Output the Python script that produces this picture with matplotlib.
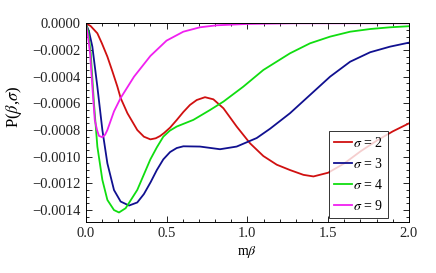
import matplotlib
matplotlib.use("Agg")
from matplotlib import pyplot as plt
from matplotlib.ticker import MultipleLocator, FuncFormatter

plt.rcParams['font.family'] = ['Liberation Serif', 'DejaVu Serif']
plt.rcParams['mathtext.fontset'] = 'stix'

# values
x2 = [0, 0.03, 0.072, 0.1, 0.134, 0.165, 0.196, 0.216, 0.258, 0.319, 0.36, 0.4, 0.433, 0.46, 0.485, 0.522,
      0.563, 0.604, 0.645, 0.687, 0.738, 0.79, 0.852, 0.934, 1.017, 1.099, 1.182, 1.264, 1.347, 1.409,
      1.5, 1.6, 1.7, 1.8, 1.9, 2.0]
y2 = [0, -0.00002, -0.000075, -0.00015, -0.00025, -0.00036, -0.000475, -0.00056, -0.000674, -0.0008,
      -0.00085, -0.00087, -0.000862, -0.000845, -0.000822, -0.000782, -0.000725, -0.000665, -0.000612,
      -0.000575, -0.000554, -0.00057, -0.000637, -0.000774, -0.0009, -0.000995, -0.00106, -0.0011,
      -0.001136, -0.001148, -0.00112, -0.00105, -0.00096, -0.00088, -0.00081, -0.00075]

x3 = [0, 0.02, 0.041, 0.072, 0.103, 0.134, 0.175, 0.216, 0.268, 0.319, 0.36, 0.402, 0.44, 0.48, 0.522,
      0.563, 0.604, 0.707, 0.831, 0.934, 1.058, 1.141, 1.264, 1.388, 1.512, 1.636, 1.76, 1.883, 2.0]
y3 = [0, -0.00006, -0.000175, -0.000475, -0.0008, -0.00105, -0.00125, -0.001336, -0.001366, -0.001343,
      -0.00128, -0.00119, -0.0011, -0.00102, -0.000965, -0.000935, -0.000922, -0.000924, -0.000944,
      -0.000924, -0.00086, -0.00079, -0.000674, -0.000537, -0.0004, -0.000288, -0.000217, -0.000175,
      -0.000145]

x4 = [0, 0.015, 0.031, 0.051, 0.072, 0.103, 0.134, 0.175, 0.206, 0.247, 0.319, 0.4, 0.44, 0.48, 0.52,
      0.563, 0.666, 0.769, 0.852, 0.975, 1.099, 1.264, 1.388, 1.512, 1.636, 1.76, 1.883, 2.0]
y4 = [0, -0.00006, -0.000225, -0.0006, -0.000924, -0.001174, -0.001324, -0.0014, -0.001418, -0.001386,
      -0.001249, -0.00102, -0.00093, -0.00085, -0.000805, -0.000774, -0.000724, -0.00065, -0.000587,
      -0.000475, -0.00035, -0.000225, -0.00015, -0.0001, -0.000063, -0.000043, -0.00003, -0.000022]

x9 = [0, 0.012, 0.027, 0.041, 0.056, 0.07, 0.082, 0.103, 0.12, 0.134, 0.175, 0.216, 0.299, 0.4, 0.5,
      0.604, 0.707, 0.811, 1.0, 1.3, 2.0]
y9 = [0, -0.00008, -0.000225, -0.000475, -0.000724, -0.0008, -0.000844, -0.000854, -0.000835, -0.0008,
      -0.00066, -0.00056, -0.0004, -0.000245, -0.00013, -0.000063, -0.00003, -0.000015, -0.000005, 0, 0]

labels = ['$\\sigma$ = 2', '$\\sigma$ = 3', '$\\sigma$ = 4', '$\\sigma$ = 9']
colors = ['#d01010', '#101090', '#10dd10', '#f020f0']

fig = plt.figure(figsize=(4.36, 2.73), dpi=100)
ax = fig.add_axes([0.1966, 0.188, 0.7414, 0.7267])

for xs, ys, lab, c in zip([x2, x3, x4, x9], [y2, y3, y4, y9], labels, colors):
    ax.plot(xs, ys, color=c, lw=1.3, label=lab)

ax.set_xlim(0, 2.0)
ax.set_ylim(-0.001487, 0.0)
ax.xaxis.set_major_locator(MultipleLocator(0.5))
ax.xaxis.set_minor_locator(MultipleLocator(0.1))
ax.yaxis.set_major_locator(MultipleLocator(0.0002))
ax.yaxis.set_minor_locator(MultipleLocator(0.00005))
ax.xaxis.set_major_formatter(FuncFormatter(lambda v, p: '%.1f' % v))
ax.yaxis.set_major_formatter(FuncFormatter(lambda v, p: ('%.4f' % v).replace('-', '\u2212') if abs(v) > 1e-9 else '0.0000'))

ax.tick_params(which='both', direction='in', top=True, right=True, labelsize=10.5, labelcolor='#222222', width=0.6)
ax.tick_params(which='major', length=4)
ax.tick_params(which='minor', length=2)
for s in ax.spines.values():
    s.set_linewidth(0.7)

ax.set_xlabel('m$\\beta$', fontsize=10, labelpad=3)
ax.set_ylabel('P($\\beta$,$\\sigma$)', fontsize=12)
ax.yaxis.set_label_coords(-0.19, 0.58)

leg = ax.legend(loc='lower right', bbox_to_anchor=(0.936, 0.019), fontsize=10, frameon=True, fancybox=False,
                handlelength=1.3, handletextpad=0.1, borderpad=0.35, labelspacing=0.5, borderaxespad=0)
leg.get_frame().set_edgecolor('black')
leg.get_frame().set_linewidth(0.7)

fig.savefig('out.png', dpi=100)
